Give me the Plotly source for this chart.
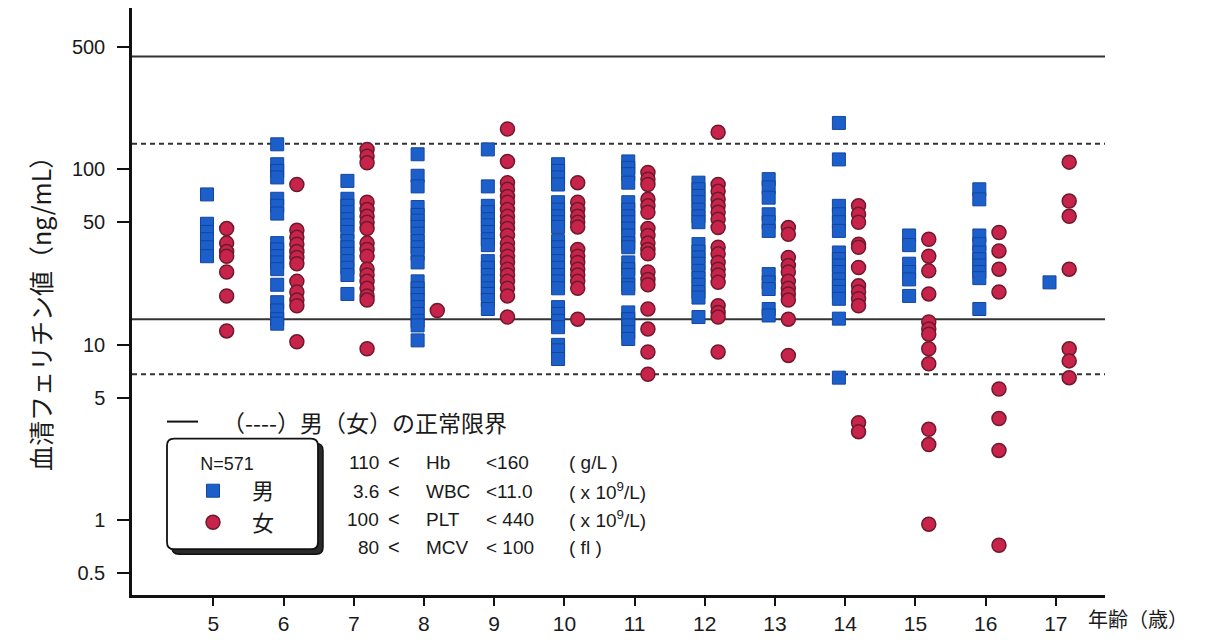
import plotly.graph_objects as go

# ---------------- data (serum ferritin, ng/mL) ----------------
ages = [5, 6, 7, 8, 9, 10, 11, 12, 13, 14, 15, 16, 17]
age_labels = ["5", "6", "7", "8", "9", "10", "11", "12", "13", "14", "15", "16", "17"]

m05 = [72, 49, 44, 40, 36, 32]
f05 = [46, 38, 34, 32, 26, 19, 12]
m06 = [139, 107, 98, 90, 68, 62, 56, 38, 35, 32, 29.5, 27, 22, 17.5, 15.7, 14, 13.2]
f06 = [82, 45, 41, 37.5, 34, 31.5, 29, 23, 20, 18, 16.7, 10.4]
m07 = [86, 68, 62, 57, 52, 48, 44, 39, 36, 33, 30, 27.5, 25, 19.5]
f07 = [130, 119, 109, 65, 59, 54, 50, 46, 38, 35, 32, 27, 25, 23, 21, 19, 18, 9.5]
m08 = [122, 92, 80, 61, 55, 51, 47, 43, 39, 36, 33, 29.5, 23, 21, 19.5, 18, 16.4, 15, 13.7, 12.9, 10.6]
f08 = [15.7]
m09 = [130, 80, 62, 57, 52, 48, 44, 40, 37, 30, 27.5, 25, 23, 21, 19.5, 18, 16]
f09 = [170, 111, 84, 77, 70, 65, 59, 54, 50, 46, 42, 38, 35, 32, 29.5, 27, 25, 23, 21, 19, 14.4]
m10 = [107, 98, 90, 82, 65, 59, 54, 50, 47, 39, 36, 33, 30, 27.5, 25, 23, 21, 16.4, 15, 13.7, 12.6, 10, 9.3, 8.3]
f10 = [84, 65, 59, 54, 50, 47, 35, 32, 29.5, 27, 25, 23, 21, 14]
m11 = [111, 102, 94, 84, 65, 59, 54, 50, 46, 42, 38, 36, 29.5, 27, 25, 22, 21, 15.3, 14, 12.9, 11.8, 10.8]
f11 = [96, 88, 82, 67.5, 62, 57, 46, 42, 38, 35, 33, 26, 23.6, 22, 16, 12.3, 9.1, 6.8]
m12 = [84, 77, 70.5, 65, 59, 54, 50, 37.5, 34, 31.5, 29, 26.4, 24, 22, 20, 18.6, 14.4]
f12 = [163, 82, 75, 67.5, 62, 57, 52, 46.6, 36, 33, 29.5, 27, 25, 22.7, 16.7, 15.3, 14.4, 9.1]
m13 = [88, 79, 69, 55.5, 50, 44.6, 25.3, 22.7, 20.8, 16, 14.7]
f13 = [46.6, 42.7, 31.5, 28.3, 26, 23, 21, 19.5, 18, 14, 8.7]
m14 = [184, 114, 62, 55.5, 50, 44.6, 33.6, 30.8, 28.3, 26, 23.6, 21.7, 20, 18.3, 14.1, 6.5]
f14 = [62, 55.5, 50, 37.5, 36, 27.6, 21.7, 20, 18.3, 16.7, 3.6, 3.2]
m15 = [42, 37, 29, 26, 23.6, 19]
f15 = [40, 32, 26.4, 19.5, 13.5, 12.3, 11.5, 9.5, 7.8, 3.3, 2.7, 0.95]
m16 = [77, 67.5, 42, 37.5, 33.6, 30.8, 28.3, 26, 24, 16]
f16 = [43.7, 34.3, 27, 20, 5.6, 3.8, 2.5, 0.72]
m17 = [22.7]
f17 = [110, 66, 54, 27, 9.5, 8.1, 6.5]

male_by_age = [m05, m06, m07, m08, m09, m10, m11, m12, m13, m14, m15, m16, m17]
female_by_age = [f05, f06, f07, f08, f09, f10, f11, f12, f13, f14, f15, f16, f17]

# normal limits (ng/mL)
male_limits = [14, 440]      # solid lines
female_limits = [6.8, 140]   # dashed lines

y_ticks = [0.5, 1, 5, 10, 50, 100, 500]
y_tick_text = ["0.5", "1", "5", "10", "50", "100", "500"]

criteria_low = ["110", "3.6", "100", "80"]
criteria_name = ["Hb", "WBC", "PLT", "MCV"]
criteria_high = ["<160", "<11.0", "< 440", "< 100"]
criteria_unit = ["( g/L )", "( x 10<sup>9</sup>/L)", "( x 10<sup>9</sup>/L)", "( fl )"]

# ---------------- style / layout constants ----------------
W, H = 1211, 643
L, R, T, B = 132, 1105, 8, 597
MALE_OFF, FEMALE_OFF = -0.09, 0.19
LATIN = "Liberation Sans, Arial, sans-serif"
NARROW = "Liberation Sans Narrow, Liberation Sans, Arial, sans-serif"
CJK = "Noto Sans CJK JP, sans-serif"
TXT = "#1a1a1a"


def px(x):
    return (x - L) / (R - L)


def py(y):
    return (B - y) / (B - T)


def rrect(x0, y0, x1, y1, r):
    def p(x, y):
        return f"{px(x):.5f},{py(y):.5f}"
    return (f"M{p(x0 + r, y0)} L{p(x1 - r, y0)} Q{p(x1, y0)} {p(x1, y0 + r)} "
            f"L{p(x1, y1 - r)} Q{p(x1, y1)} {p(x1 - r, y1)} L{p(x0 + r, y1)} "
            f"Q{p(x0, y1)} {p(x0, y1 - r)} L{p(x0, y0 + r)} Q{p(x0, y0)} {p(x0 + r, y0)} Z")


mx, my, fx, fy = [], [], [], []
for a, vals in zip(ages, male_by_age):
    mx += [a + MALE_OFF] * len(vals)
    my += vals
for a, vals in zip(ages, female_by_age):
    fx += [a + FEMALE_OFF] * len(vals)
    fy += vals

fig = go.Figure()
fig.add_trace(go.Scatter(
    x=mx, y=my, mode="markers", name="男",
    marker=dict(symbol="square", size=13, color="#1c5fcb",
                line=dict(color="#12469e", width=1)),
))
fig.add_trace(go.Scatter(
    x=fx, y=fy, mode="markers", name="女",
    marker=dict(symbol="circle", size=14, color="#c8244b",
                line=dict(color="#6e1a2c", width=1.5)),
))

shapes = []
for v in male_limits:
    shapes.append(dict(type="line", xref="paper", x0=0, x1=1, yref="y", y0=v, y1=v,
                       line=dict(color="#333333", width=2), layer="below"))
for v in female_limits:
    shapes.append(dict(type="line", xref="paper", x0=0, x1=1, yref="y", y0=v, y1=v,
                       line=dict(color="#333333", width=2, dash="5px,4px"), layer="below"))

# legend box with stacked shadow
shapes.append(dict(type="path", xref="paper", yref="paper", path=rrect(172, 445, 323, 556, 7),
                   fillcolor="#2a2a2a", line=dict(color="#111111", width=1.5)))
shapes.append(dict(type="path", xref="paper", yref="paper", path=rrect(167, 440, 318, 551, 7),
                   fillcolor="white", line=dict(color="#111111", width=1.8)))
# line key for normal limits
shapes.append(dict(type="line", xref="paper", yref="paper", x0=px(167), x1=px(198),
                   y0=py(423), y1=py(423), line=dict(color="#111111", width=2)))

annotations = []
annotations.append(dict(xref="paper", yref="paper", x=px(220), y=py(423), xanchor="left",
                        yanchor="middle", showarrow=False,
                        text="（----）男（女）の正常限界",
                        font=dict(family=CJK, size=23, color=TXT)))
rows_y = [464, 493, 521, 549]
for i, yy in enumerate(rows_y):
    annotations.append(dict(xref="paper", yref="paper", x=px(381), y=py(yy), xanchor="right",
                            yanchor="middle", showarrow=False, text=criteria_low[i],
                            font=dict(family=LATIN, size=19, color=TXT)))
    annotations.append(dict(xref="paper", yref="paper", x=px(394), y=py(yy), xanchor="center",
                            yanchor="middle", showarrow=False, text="&lt;",
                            font=dict(family=LATIN, size=20, color=TXT)))
    annotations.append(dict(xref="paper", yref="paper", x=px(424), y=py(yy), xanchor="left",
                            yanchor="middle", showarrow=False, text=criteria_name[i],
                            font=dict(family=LATIN, size=19, color=TXT)))
    annotations.append(dict(xref="paper", yref="paper", x=px(484), y=py(yy), xanchor="left",
                            yanchor="middle", showarrow=False,
                            text=criteria_high[i].replace("<", "&lt;"),
                            font=dict(family=LATIN, size=19, color=TXT)))
    annotations.append(dict(xref="paper", yref="paper", x=px(567), y=py(yy), xanchor="left",
                            yanchor="middle", showarrow=False, text=criteria_unit[i],
                            font=dict(family=LATIN, size=19, color=TXT)))

# axis titles
annotations.append(dict(xref="paper", yref="paper", x=px(40), y=py(309), xanchor="center",
                        yanchor="middle", showarrow=False, textangle=-90,
                        text="血清フェリチン値（ng/mL）",
                        font=dict(family=CJK, size=25, color=TXT)))
annotations.append(dict(xref="paper", yref="paper", x=px(1086), y=py(621), xanchor="left",
                        yanchor="middle", showarrow=False, text="年齢（歳）",
                        font=dict(family=CJK, size=20, color=TXT)))

fig.update_layout(
    width=W, height=H, autosize=False,
    margin=dict(l=L, r=W - R, t=T, b=H - B, pad=0),
    plot_bgcolor="white", paper_bgcolor="white",
    shapes=shapes, annotations=annotations,
    showlegend=True,
    legend=dict(
        x=px(174), y=py(448), xanchor="left", yanchor="top",
        bgcolor="rgba(0,0,0,0)", borderwidth=0,
        title=dict(text="N=571", side="top center",
                   font=dict(family=LATIN, size=18, color=TXT)),
        font=dict(family=CJK, size=22, color=TXT),
        itemwidth=68, tracegroupgap=0,
    ),
    xaxis=dict(
        range=[3.842, 17.70], tickmode="array", tickvals=ages, ticktext=age_labels,
        ticks="outside", ticklen=8, tickwidth=1.5, tickcolor="#111111",
        showline=True, linewidth=2.5, linecolor="#111111",
        showgrid=False, zeroline=False,
        tickfont=dict(family=NARROW, size=21, color=TXT),
    ),
    yaxis=dict(
        type="log", range=[-0.426, 2.920], tickmode="array", tickvals=y_ticks,
        ticktext=y_tick_text, ticks="outside", ticklen=12, tickwidth=2, tickcolor="#111111",
        showline=True, linewidth=2.5, linecolor="#111111",
        showgrid=False, zeroline=False, ticklabelstandoff=8,
        tickfont=dict(family=LATIN, size=20, color=TXT),
    ),
)

fig.write_html("out.html")
